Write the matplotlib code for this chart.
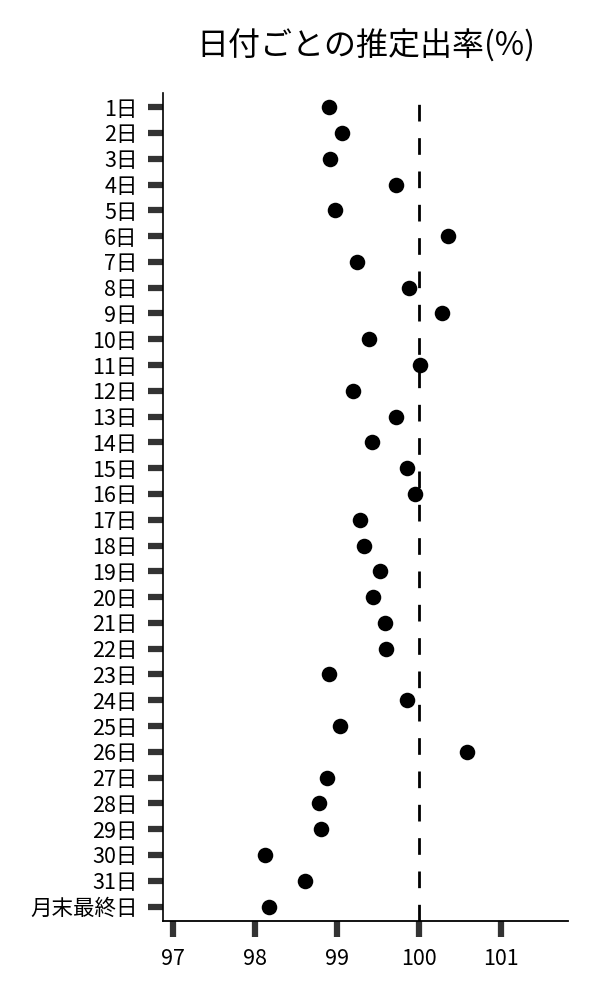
import matplotlib
matplotlib.use("Agg")
import matplotlib.pyplot as plt
import numpy as np

plt.rcParams['font.family'] = ['Noto Sans CJK JP', 'DejaVu Sans']

categories = [f"{i}日" for i in range(1, 32)] + ["月末最終日"]
values = [98.90, 99.06, 98.91, 99.72, 98.98, 100.35, 99.24, 99.88, 100.28, 99.39,
          100.01, 99.20, 99.72, 99.43, 99.85, 99.95, 99.28, 99.33, 99.52, 99.44,
          99.58, 99.60, 98.90, 99.85, 99.04, 100.59, 98.88, 98.78, 98.80, 98.12,
          98.61, 98.17]
xticks = [97, 98, 99, 100, 101]
ref_value = 100
title = "日付ごとの推定出率(%)"

fig = plt.figure(figsize=(6, 10), dpi=100)
ax = fig.add_axes([0.272, 0.079, 0.675, 0.828])

y = np.arange(len(categories))
ax.scatter(values, y, s=125, color='black', zorder=3, linewidths=0)
ax.axvline(ref_value, color='black', lw=2, linestyle=(0, (6, 6)), zorder=2)

ax.set_yticks(y)
ax.set_yticklabels(categories)
ax.set_ylim(len(categories) - 1 + 0.56, -0.55)
ax.set_xticks(xticks)
ax.set_xticklabels([str(v) for v in xticks])
ax.set_xlim(96.88, 101.82)

for s in ['top', 'right']:
    ax.spines[s].set_visible(False)
ax.spines['left'].set_linewidth(1.2)
ax.spines['bottom'].set_linewidth(1.3)

ax.tick_params(axis='y', length=10.5, width=4.5, color='#333333', pad=8, labelsize=15.5)
ax.tick_params(axis='x', length=11.5, width=4.5, color='#333333', pad=8, labelsize=15.5)

ax.set_title(title, fontsize=23, pad=27)

fig.savefig("out.png", dpi=100)
